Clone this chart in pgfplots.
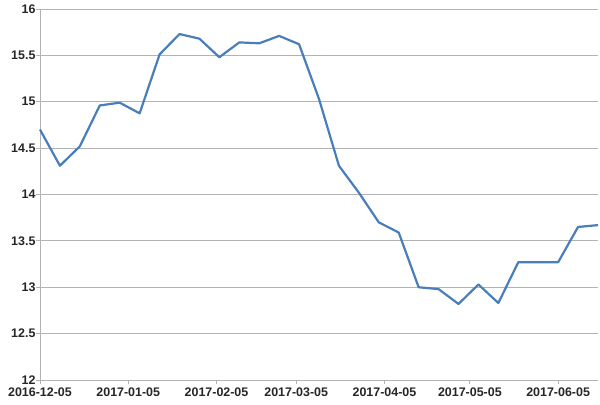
\documentclass[border=0pt]{standalone}
\usepackage{pgfplots}
\pgfplotsset{compat=1.18}
\usepackage{fontspec}
\setmainfont{Liberation Sans}
\definecolor{linecol}{HTML}{4A7EBB}
\definecolor{gridcol}{HTML}{B3B3B3}
\begin{document}
\begin{tikzpicture}
\begin{axis}[
  scale only axis,
  width=558bp, height=371bp,
  xmin=0, xmax=196,
  ymin=12, ymax=16,
  ytick={12,12.5,...,16},
  xtick={0,31,62,90,121,151,182},
  xticklabels={2016-12-05,2017-01-05,2017-02-05,2017-03-05,2017-04-05,2017-05-05,2017-06-05},
  axis x line*=bottom,
  axis y line*=left,
  axis line style={gridcol, line width=0.8bp, -},
  ymajorgrids,
  major grid style={gridcol, line width=0.8bp},
  tick style={gridcol, line width=0.8bp},
  tick align=outside,
  major tick length=4bp,
  ticklabel style={font=\fontsize{12.5}{15}\selectfont\bfseries, text=black!85},
  /pgf/number format/assume math mode=true,
  yticklabel style={xshift=3bp},
  xticklabel style={yshift=0bp},
  clip=false,
]
\addplot[linecol, line width=2.2bp, line join=round] coordinates {
(0,14.70) (7,14.31) (14,14.52) (21,14.96) (28,14.99) (35,14.875) (42,15.51)
(49,15.73) (56,15.68) (63,15.48) (70,15.64) (77,15.63) (84,15.71) (91,15.62)
(98,15.03) (105,14.31) (112,14.02) (119,13.70) (126,13.59) (133,13.00)
(140,12.98) (147,12.82) (154,13.03) (161,12.83) (168,13.27) (175,13.27)
(182,13.27) (189,13.65) (196,13.67)
};
\end{axis}
\pgfresetboundingbox
\path (0,0) ++(-40bp,-25bp) rectangle ++(600bp,405bp);
\end{tikzpicture}
\end{document}
